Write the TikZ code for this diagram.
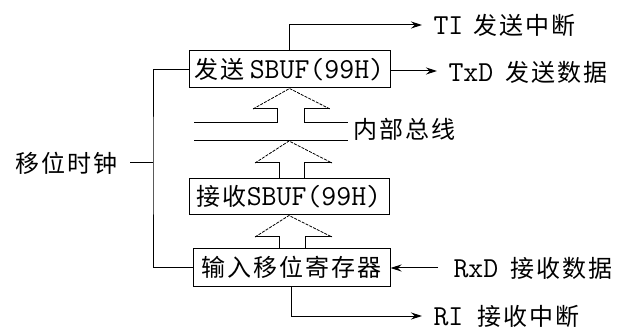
\documentclass[tikz,border=0pt]{standalone}
\usepackage{fontspec}
\newfontfamily\cnfont[LetterSpace=8]{Noto Sans CJK SC}
\newcommand\cz{\cnfont\fontsize{24}{26}\selectfont}
\newcommand\lz{\ttfamily\fontsize{29}{30}\selectfont}
\usetikzlibrary{arrows.meta}
\begin{document}
\begin{tikzpicture}[x=1pt,y=-1pt,line width=1pt,
  box/.style={draw,rectangle,inner sep=0pt},
  lbl/.style={inner sep=0pt,anchor=west},
  arr/.style={-{Stealth[length=11pt,width=7pt]}},
  diag/.style={line width=0.8pt,dash pattern=on 3pt off 1.2pt}]
\useasboundingbox (0,0) rectangle (624,331);
% boxes
\node[box,minimum width=201pt,minimum height=37pt] (send) at (289.5,69.5) {{\cz 发送}\hspace{5pt}{\lz SBUF(99H)}};
\node[box,minimum width=200pt,minimum height=36pt] (recv) at (289,197) {{\cz 接收}{\lz SBUF(99H)}};
\node[box,minimum width=197pt,minimum height=37pt] (shift) at (291.5,267.5) {\cz 输入移位寄存器};
% labels
\node[lbl] (ti) at (433,25) {{\lz TI}\hspace{10pt}{\cz 发送中断}};
\node[lbl] (txd) at (448,72) {{\lz TxD}\hspace{12pt}{\cz 发送数据}};
\node[lbl] (rxd) at (453,268) {{\lz RxD}\hspace{12pt}{\cz 接收数据}};
\node[lbl] (ri) at (433,316) {{\lz RI}\hspace{14pt}{\cz 接收中断}};
\node[lbl] (bus) at (353,129) {\cz 内部总线};
\node[lbl] (clk) at (15,163) {\cz 移位时钟};
% coordinates
\coordinate (tiA) at (422,25);
\coordinate (txdA) at (437,71);
\coordinate (rxdA) at (438,268);
\coordinate (riA) at (422,316);
\coordinate (ckT) at (130,163);
\coordinate (ckJ) at (153,163);
% connectors
\draw[arr] (send.north) |- (tiA);
\draw[arr] (send.east |- txdA) -- (txdA);
\draw[arr] (rxdA) -- (shift.east |- rxdA);
\draw[arr] (shift.south) |- (riA);
\draw (send.west) -| (ckJ) |- (shift.west);
\draw (ckT) -- (ckJ);
% internal bus
\draw (194,123) -- (277,123);
\draw (304,123) -- (348,123);
\draw (194,141) -- (348,141);
% hollow arrows
\draw (277,123) -- (277,109) -- (253,109);
\draw (304,123) -- (304,109) -- (330,109);
\draw[diag] (253,109) -- (send.south) -- (330,109);
\draw (279,179) -- (279,163) -- (255,163);
\draw (304,179) -- (304,163) -- (332,163);
\draw[diag] (255,163) -- (289,141) -- (332,163);
\draw (279,249) -- (279,237) -- (255,237);
\draw (305,249) -- (305,237) -- (332,237);
\draw[diag] (255,237) -- (recv.south) -- (332,237);
\end{tikzpicture}
\end{document}
